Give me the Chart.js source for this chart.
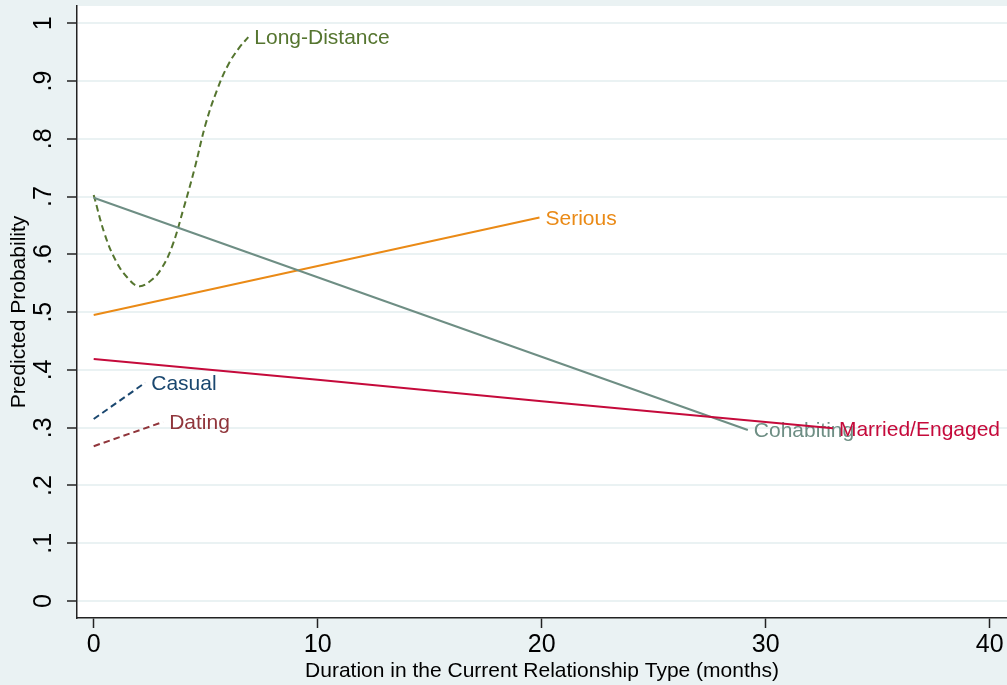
<!DOCTYPE html>
<html>
<head>
<meta charset="utf-8">
<script src="https://cdn.jsdelivr.net/npm/chart.js@4"></script>
<style>
  html, body { margin: 0; padding: 0; background: #EAF2F3; }
  #wrap { width: 1007px; height: 685px; position: relative; }
</style>
</head>
<body>
<div id="wrap"><canvas id="c"></canvas></div>
<script>
const FONT = '"Liberation Sans", Arial, Helvetica, sans-serif';

// Series: duration (months) and predicted probability per relationship type
const casualX = [0, 2.3];
const casualY = [0.315, 0.378];

const datingX = [0, 3.1];
const datingY = [0.268, 0.310];

const longDistX = [0, 0.5, 1, 1.5, 2, 2.5, 3, 3.5, 4, 4.5, 5, 5.5, 6, 6.5, 6.9];
const longDistY = [0.703, 0.634, 0.588, 0.560, 0.545, 0.553, 0.574, 0.614, 0.678, 0.748, 0.826, 0.884, 0.928, 0.958, 0.976];

const seriousX = [0, 19.9];
const seriousY = [0.495, 0.664];

const cohabX = [0, 29.2];
const cohabY = [0.698, 0.296];

const marriedX = [0, 10, 20, 33.0];
const marriedY = [0.419, 0.383, 0.346, 0.299];

// Axis ticks
const xTickValues = [0, 10, 20, 30, 40];
const yTickValues = [0, 0.1, 0.2, 0.3, 0.4, 0.5, 0.6, 0.7, 0.8, 0.9, 1];
const yTickLabels = ['0', '.1', '.2', '.3', '.4', '.5', '.6', '.7', '.8', '.9', '1'];

const toPoints = (xs, ys) => xs.map((x, i) => ({ x: x, y: ys[i] }));

function series(label, xs, ys, color, dashed, order, tension) {
  return {
    label: label,
    data: toPoints(xs, ys),
    borderColor: color,
    backgroundColor: color,
    borderWidth: 2,
    borderDash: dashed ? [6.5, 4] : [],
    borderCapStyle: 'butt',
    pointRadius: 0,
    pointHoverRadius: 0,
    fill: false,
    tension: tension || 0,
    order: order
  };
}

// Plot background: light frame, white plotting region
const backdrop = {
  id: 'backdrop',
  beforeDraw(chart) {
    const { ctx, chartArea: a, width, height } = chart;
    ctx.save();
    ctx.fillStyle = '#EAF2F3';
    ctx.fillRect(0, 0, width, height);
    ctx.fillStyle = '#FFFFFF';
    ctx.fillRect(a.left, a.top, a.right - a.left, a.bottom - a.top);
    ctx.restore();
  }
};

// Name each line at its last point, in the line's colour
const endLabels = {
  id: 'endLabels',
  afterDatasetDraw(chart, args) {
    const ds = chart.data.datasets[args.index];
    const pts = args.meta.data;
    if (!pts.length) return;
    const p = pts[pts.length - 1];
    const ctx = chart.ctx;
    ctx.save();
    ctx.font = '21px ' + FONT;
    ctx.fillStyle = ds.borderColor;
    ctx.textAlign = 'left';
    ctx.textBaseline = 'middle';
    ctx.fillText(ds.label, p.x + 6, p.y + 1.5);
    ctx.restore();
  }
};

new Chart(document.getElementById('c'), {
  type: 'line',
  data: {
    datasets: [
      series('Casual', casualX, casualY, '#1A476F', true, 6),
      series('Dating', datingX, datingY, '#90353B', true, 5),
      series('Long-Distance', longDistX, longDistY, '#55752F', true, 4, 0.4),
      series('Serious', seriousX, seriousY, '#EA8A16', false, 3),
      series('Cohabiting', cohabX, cohabY, '#6E8E84', false, 2),
      series('Married/Engaged', marriedX, marriedY, '#C50A3B', false, 1)
    ]
  },
  options: {
    responsive: true,
    maintainAspectRatio: false,
    animation: false,
    events: [],
    layout: { padding: { top: 6, right: 0, bottom: 0, left: 0 } },
    plugins: { legend: { display: false }, tooltip: { enabled: false } },
    scales: {
      x: {
        type: 'linear',
        min: -0.7455,
        max: 40.77,
        afterBuildTicks: s => { s.ticks = xTickValues.map(v => ({ value: v })); },
        afterFit: s => { s.height = 67; s.paddingLeft = 0; s.paddingRight = 0; },
        ticks: {
          font: { family: FONT, size: 25 },
          color: '#000',
          padding: 2,
          autoSkip: false,
          maxRotation: 0,
          minRotation: 0
        },
        grid: {
          drawOnChartArea: false,
          drawTicks: true,
          tickLength: 10,
          tickColor: '#222',
          tickWidth: 1.5
        },
        border: { display: true, color: '#222', width: 1.5 },
        title: {
          display: true,
          text: 'Duration in the Current Relationship Type (months)',
          font: { family: FONT, size: 21 },
          color: '#000',
          padding: { top: 0, bottom: 1 }
        }
      },
      y: {
        type: 'linear',
        min: -0.0294,
        max: 1.030,
        afterBuildTicks: s => { s.ticks = yTickValues.map(v => ({ value: v })); },
        afterFit: s => { s.width = 77; s.paddingTop = 0; s.paddingBottom = 0; },
        ticks: {
          font: { family: FONT, size: 25 },
          color: '#000',
          padding: 12.5,
          crossAlign: 'center',
          minRotation: 90,
          maxRotation: 90,
          autoSkip: false,
          callback: (v, i) => yTickLabels[i]
        },
        grid: {
          color: '#EAF2F3',
          lineWidth: 2,
          drawTicks: true,
          tickLength: 10,
          tickColor: '#222',
          tickWidth: 1.5
        },
        border: { display: true, color: '#222', width: 1.5 },
        title: {
          display: true,
          text: 'Predicted Probability',
          font: { family: FONT, size: 21 },
          color: '#000',
          padding: { top: 7, bottom: 0 }
        }
      }
    }
  },
  plugins: [backdrop, endLabels]
});
</script>
</body>
</html>
